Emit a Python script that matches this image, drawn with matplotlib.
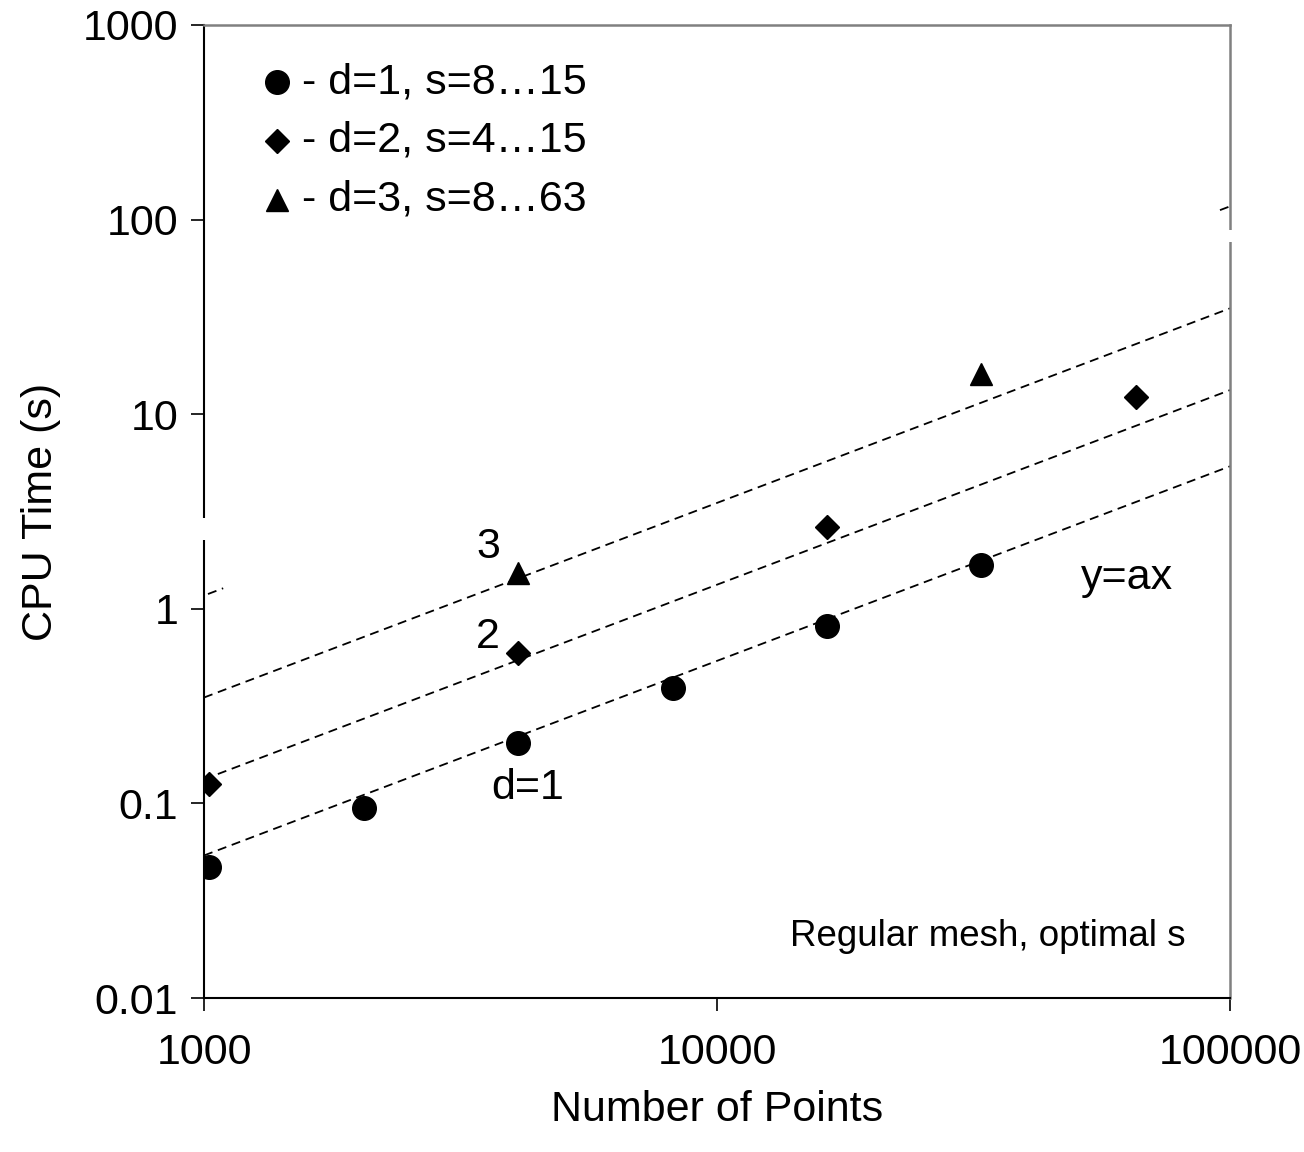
import numpy as np
import matplotlib
matplotlib.use("Agg")
import matplotlib.pyplot as plt
from matplotlib.patches import Rectangle

plt.rcParams['font.family'] = ['Liberation Sans', 'DejaVu Sans']

# ---- data ----
n_d1 = [1024, 2048, 4096, 8192, 16384, 32768]
t_d1 = [0.047, 0.095, 0.205, 0.393, 0.82, 1.68]
n_d2 = [1024, 4096, 16384, 65536]
t_d2 = [0.126, 0.594, 2.64, 12.3]
n_d3 = [4096, 32768]
t_d3 = [1.53, 16.1]
# y = a x fits
fit_a = [5.4e-5, 1.33e-4, 3.5e-4]
fit_a_hidden = 1.17e-3
legend_labels = ["- d=1, s=8\u202615", "- d=2, s=4\u202615", "- d=3, s=8\u202663"]
xticks = [1000, 10000, 100000]
xtick_labels = ["1000", "10000", "100000"]
yticks = [0.01, 0.1, 1, 10, 100, 1000]
ytick_labels = ["0.01", "0.1", "1", "10", "100", "1000"]

FS = 31

fig = plt.figure(figsize=(13.04, 11.52), dpi=100)
ax = fig.add_axes([204/1304, 1-998/1152, 1026/1304, 973/1152])
ax.set_xscale('log')
ax.set_yscale('log')
ax.set_xlim(1000, 100000)
ax.set_ylim(0.01, 1000)

xs = np.array([1000, 100000])
dash = (0, (5, 3.2))
for a in fit_a:
    ax.plot(xs, a*xs, color='black', lw=1.3, ls=dash, zorder=2)
# fragments of a fourth fit line
for seg in ([1018, 1090], [95600, 100000]):
    s = np.array(seg)
    ax.plot(s, fit_a_hidden*s, color='black', lw=1.3, ls=dash, zorder=2)

ms_c, ms_d, ms_t = 17, 12, 16
ax.plot(n_d1, t_d1, 'o', color='black', ms=ms_c, ls='none', zorder=3)
ax.plot(n_d2, t_d2, 'D', color='black', ms=ms_d, ls='none', zorder=3)
ax.plot(n_d3, t_d3, '^', color='black', ms=ms_t, ls='none', zorder=3)

ax.set_xticks(xticks)
ax.set_xticklabels(xtick_labels)
ax.set_yticks(yticks)
ax.set_yticklabels(ytick_labels)
ax.minorticks_off()
ax.tick_params(axis='both', which='major', direction='out', length=9.5, width=1.2,
               labelsize=FS, color='black')
ax.tick_params(axis='x', pad=16)
ax.tick_params(axis='y', pad=9)
for s in ['left', 'bottom']:
    ax.spines[s].set_color('black')
    ax.spines[s].set_linewidth(1.5)
for s in ['top', 'right']:
    ax.spines[s].set_color('#808080')
    ax.spines[s].set_linewidth(1.8)

ax.set_xlabel("Number of Points", fontsize=FS, labelpad=12)
ax.set_ylabel("CPU Time (s)", fontsize=FS, labelpad=16)

# legend (manual)
mk = ['o', 'D', '^']
msz = [ms_c, ms_d, ms_t]
ly = [0.9414, 0.8808, 0.8202]
for m, s, y, lab in zip(mk, msz, ly, legend_labels):
    ax.plot([0.0712], [y], m, color='black', ms=s, transform=ax.transAxes, clip_on=False)
    ax.text(0.0955, y, lab, transform=ax.transAxes, fontsize=FS, va='center', ha='left')

# annotations
ax.text(0.2768, 0.4636, "3", transform=ax.transAxes, fontsize=FS, ha='center', va='center')
ax.text(0.2768, 0.371, "2", transform=ax.transAxes, fontsize=FS, ha='center', va='center')
ax.text(0.3158, 0.2158, "d=1", transform=ax.transAxes, fontsize=FS, ha='center', va='center')
ax.text(0.8996, 0.4317, "y=ax", transform=ax.transAxes, fontsize=FS, ha='center', va='center')
ax.text(0.7641, 0.0627, "Regular mesh, optimal s", transform=ax.transAxes, fontsize=26.5,
        ha='center', va='center')

# small gaps in the frame (as in the reference)
ax.add_patch(Rectangle((-0.01, (998-540)/973), 0.02, 22/973, transform=ax.transAxes,
                       facecolor='white', edgecolor='none', clip_on=False, zorder=5))
ax.add_patch(Rectangle((0.99, (998-242)/973), 0.02, 12/973, transform=ax.transAxes,
                       facecolor='white', edgecolor='none', clip_on=False, zorder=5))

fig.savefig("out.png", dpi=100)
